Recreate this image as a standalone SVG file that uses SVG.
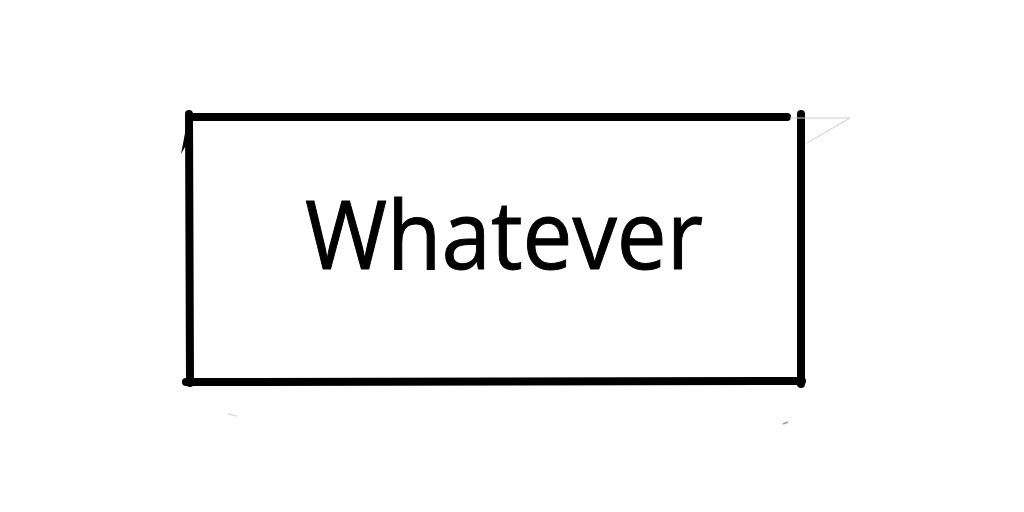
<svg xmlns="http://www.w3.org/2000/svg" width="1024" height="512" viewBox="0 0 1024 512">
<style>
.edge{stroke:#000;stroke-width:8;stroke-linecap:round;fill:none}
.faint{stroke:#ccc;stroke-width:1;fill:none}
.label{font-family:"Open Sans","Liberation Sans",sans-serif;font-size:96px;fill:#000;stroke:#000;stroke-width:1}
</style>
<rect width="1024" height="512" fill="#fff"/>
<g id="node-whatever">
<line class="edge" x1="190" y1="117" x2="787" y2="117"/>
<line class="edge" x1="801" y1="114" x2="801" y2="384"/>
<line class="edge" x1="189" y1="114" x2="190" y2="383"/>
<line class="edge" x1="186" y1="382" x2="802" y2="381"/>
<path d="M186,128 L181,154 L189,140 Z" fill="#000"/>
<line class="faint" x1="790" y1="118" x2="850" y2="118"/>
<line class="faint" x1="850" y1="118" x2="807" y2="143"/>
<text class="label" x="305" y="269" textLength="398" lengthAdjust="spacingAndGlyphs">Whatever</text>
</g>
<g id="connectors"/>
<line x1="228" y1="414" x2="237" y2="416" stroke="#ddd" stroke-width="1.5"/>
<line x1="783" y1="424" x2="788" y2="422" stroke="#999" stroke-width="1.5"/>
</svg>
